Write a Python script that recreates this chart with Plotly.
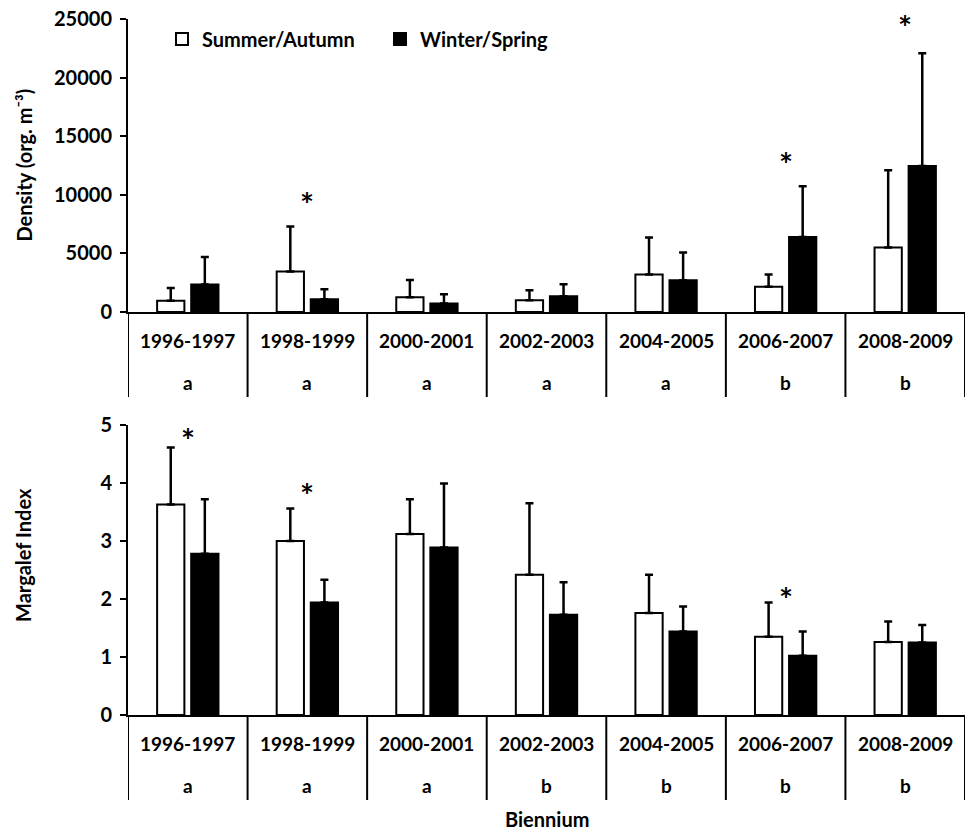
import plotly.graph_objects as go

# ---------------- data ----------------
biennia = ["1996-1997", "1998-1999", "2000-2001", "2002-2003", "2004-2005", "2006-2007", "2008-2009"]

dens_sa = [950, 3450, 1250, 1000, 3200, 2150, 5500]
dens_sa_sd = [1100, 3850, 1480, 850, 3150, 1050, 6600]
dens_ws = [2350, 1080, 720, 1340, 2700, 6400, 12450]
dens_ws_sd = [2350, 860, 790, 1020, 2370, 4330, 9620]
dens_letters = ["a", "a", "a", "a", "a", "b", "b"]
dens_star_y = [None, 9800, None, None, None, 13200, 24950]

marg_sa = [3.63, 3.00, 3.12, 2.42, 1.76, 1.35, 1.26]
marg_sa_sd = [0.98, 0.56, 0.60, 1.23, 0.66, 0.59, 0.35]
marg_ws = [2.78, 1.94, 2.89, 1.73, 1.44, 1.02, 1.25]
marg_ws_sd = [0.94, 0.39, 1.10, 0.56, 0.43, 0.42, 0.30]
marg_letters = ["a", "a", "a", "b", "b", "b", "b"]
marg_star_y = [4.86, 3.91, None, None, None, 2.12, None]

dens_ticks = [0, 5000, 10000, 15000, 20000, 25000]
dens_ticktext = ["0", "5000", "10000", "15000", "20000", "25000"]
marg_ticks = [0, 1, 2, 3, 4, 5]
marg_ticktext = ["0", "1", "2", "3", "4", "5"]

# ---------------- layout geometry (pixels) ----------------
W, H = 973, 833
FONT = "Lato"
X0, X1 = 128, 965
TOP_Y0, TOP_Y1 = 19, 312      # pixel rows of 25000 and 0
BOT_Y0, BOT_Y1 = 425, 715     # pixel rows of 5 and 0


def px(x):
    return x / W


def py(y):
    return 1 - y / H


fig = go.Figure()


def add_pair(sa, sa_sd, ws, ws_sd, xa, ya, show):
    fig.add_trace(go.Bar(
        x=biennia, y=sa, name="Summer/Autumn", xaxis=xa, yaxis=ya,
        marker=dict(color="white", line=dict(color="black", width=2)),
        error_y=dict(type="data", symmetric=False, array=sa_sd, arrayminus=[0] * len(sa),
                     color="black", thickness=2.5, width=4),
        showlegend=show, legendgroup="sa"))
    fig.add_trace(go.Bar(
        x=biennia, y=ws, name="Winter/Spring", xaxis=xa, yaxis=ya,
        marker=dict(color="black", line=dict(color="black", width=2)),
        error_y=dict(type="data", symmetric=False, array=ws_sd, arrayminus=[0] * len(ws),
                     color="black", thickness=2.5, width=4),
        showlegend=show, legendgroup="ws"))


add_pair(dens_sa, dens_sa_sd, dens_ws, dens_ws_sd, "x", "y", True)
add_pair(marg_sa, marg_sa_sd, marg_ws, marg_ws_sd, "x2", "y2", False)

axis_common = dict(showline=True, linecolor="black", linewidth=2, showgrid=False,
                   zeroline=False, automargin=False)
ytick_common = dict(ticks="outside", ticklen=6, tickwidth=2, tickcolor="black",
                    ticklabelstandoff=4, tickfont=dict(size=20))

fig.update_layout(
    width=W, height=H,
    margin=dict(l=0, r=0, t=0, b=0, autoexpand=False),
    paper_bgcolor="white", plot_bgcolor="white",
    font=dict(family=FONT, size=19, color="black", weight="bold"),
    barmode="group", bargap=0.43, bargroupgap=0.2,
    xaxis=dict(domain=[px(X0), px(X1)], anchor="y", showticklabels=False, ticks="",
               range=[-0.5, 6.5], **axis_common),
    yaxis=dict(domain=[py(TOP_Y1), py(TOP_Y0)], anchor="x", range=[0, 25000],
               tickvals=dens_ticks, ticktext=dens_ticktext, **ytick_common, **axis_common),
    xaxis2=dict(domain=[px(X0), px(X1)], anchor="y2", showticklabels=False, ticks="",
                range=[-0.5, 6.5], **axis_common),
    yaxis2=dict(domain=[py(BOT_Y1), py(BOT_Y0)], anchor="x2", range=[0, 5],
                tickvals=marg_ticks, ticktext=marg_ticktext, **ytick_common, **axis_common),
    legend=dict(orientation="h", x=px(162), xanchor="left", y=py(39), yanchor="middle",
                font=dict(size=20, family=FONT, weight="bold"), itemwidth=30,
                entrywidth=173, entrywidthmode="pixels",
                bgcolor="rgba(0,0,0,0)"),
)

shapes = []
annotations = []

for (xa, yaxis_bottom_px, letters, star_y, yref) in [
    ("x", TOP_Y1, dens_letters, dens_star_y, "y"),
    ("x2", BOT_Y1, marg_letters, marg_star_y, "y2"),
]:
    # category dividers below the axis
    for i in range(len(biennia) + 1):
        shapes.append(dict(type="line", xref=xa, yref="paper", x0=i - 0.5, x1=i - 0.5,
                           y0=py(yaxis_bottom_px), y1=py(yaxis_bottom_px + 85),
                           line=dict(color="black", width=2)))
    for b, l in zip(biennia, letters):
        annotations.append(dict(x=b, xref=xa, y=py(yaxis_bottom_px + 28), yref="paper",
                                text=b, showarrow=False, xanchor="center", yanchor="middle"))
        annotations.append(dict(x=b, xref=xa, y=py(yaxis_bottom_px + 70), yref="paper",
                                text=l, showarrow=False, xanchor="center", yanchor="middle"))
    for b, s in zip(biennia, star_y):
        if s is not None:
            annotations.append(dict(x=b, xref=xa, y=s, yref=yref, text="*", showarrow=False,
                                    xanchor="center", yanchor="middle",
                                    font=dict(size=33), yshift=-7))

# axis titles
annotations.append(dict(x=px(23), y=py((TOP_Y0 + TOP_Y1) / 2), xref="paper", yref="paper",
                        text="Density (org. m⁻³)", textangle=-90, showarrow=False,
                        xanchor="center", yanchor="middle", font=dict(size=20)))
annotations.append(dict(x=px(23), y=py(555), xref="paper", yref="paper",
                        text="Margalef Index", textangle=-90, showarrow=False,
                        xanchor="center", yanchor="middle", font=dict(size=20)))
annotations.append(dict(x=px(547), y=py(819), xref="paper", yref="paper",
                        text="Biennium", showarrow=False, xanchor="center", yanchor="middle",
                        font=dict(size=20)))

fig.update_layout(shapes=shapes, annotations=annotations)

fig.write_html("out.html", config={"displayModeBar": False},
               post_script="document.body.style.margin='0';")
